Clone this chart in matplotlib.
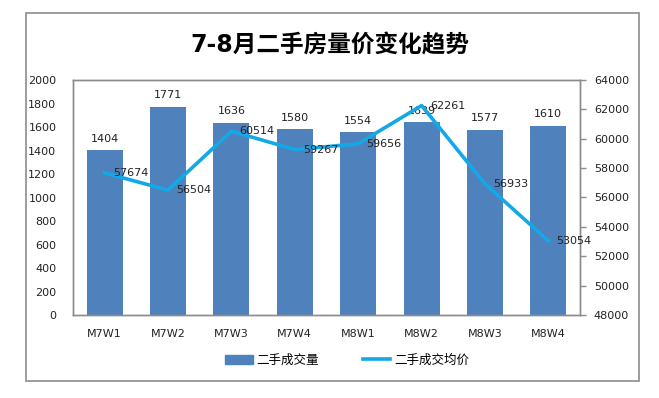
import matplotlib
matplotlib.use("Agg")
import matplotlib.pyplot as plt
from matplotlib.patches import Rectangle
from matplotlib.lines import Line2D
import numpy as np

plt.rcParams['font.family'] = ['DejaVu Sans', 'Noto Sans CJK SC']

weeks = ['M7W1', 'M7W2', 'M7W3', 'M7W4', 'M8W1', 'M8W2', 'M8W3', 'M8W4']
volume = [1404, 1771, 1636, 1580, 1554, 1639, 1577, 1610]
price = [57674, 56504, 60514, 59267, 59656, 62261, 56933, 53054]

bar_color = '#4F81BD'
line_color = '#12A9E6'
frame_color = '#8C8C8C'
txt = '#222222'

fig = plt.figure(figsize=(6.59, 3.98), dpi=100)

# outer chart border
fig.patches.append(Rectangle((26 / 659, 1 - 381 / 398), 613 / 659, 368 / 398,
                             transform=fig.transFigure, fill=False,
                             edgecolor=frame_color, linewidth=1.2))

ax = fig.add_axes([73 / 659, 1 - 315 / 398, 507 / 659, 235 / 398])
x = np.arange(len(weeks))
ax.bar(x, volume, width=0.57, color=bar_color, zorder=2)
ax.set_xlim(-0.5, len(weeks) - 0.5)
ax.set_ylim(0, 2000)
ax.set_yticks(np.arange(0, 2001, 200))
ax.set_xticks(x)
ax.set_xticklabels(weeks)
ax.tick_params(axis='both', length=0, labelsize=8, colors=txt)
ax.tick_params(axis='x', pad=10)
ax.tick_params(axis='y', pad=12)
for s in ax.spines.values():
    s.set_color(frame_color)
    s.set_linewidth(1)

for xi, v in zip(x, volume):
    ax.text(xi, v + 55, str(v), ha='center', va='bottom', fontsize=8, color=txt, zorder=5)

ax2 = ax.twinx()
ax2.plot(x, price, color=line_color, linewidth=2.6, zorder=3)
ax2.set_ylim(48000, 64000)
ax2.set_yticks(np.arange(48000, 64001, 2000))
ax2.tick_params(axis='y', length=4, width=1, labelsize=8, colors=txt, pad=6)
ax2.tick_params(axis='y', color=frame_color)
for s in ax2.spines.values():
    s.set_color(frame_color)
    s.set_linewidth(1)

for xi, p in zip(x, price):
    ax2.text(xi + 0.13, p, str(p), ha='left', va='center', fontsize=8, color=txt, zorder=5)

fig.text(330 / 659, 1 - 45 / 398, '7-8月二手房量价变化趋势', ha='center', va='center',
         fontsize=17, fontweight='bold', color='black')

handles = [Rectangle((0, 0), 1, 1, color=bar_color),
           Line2D([0], [0], color=line_color, linewidth=2.6)]
fig.legend(handles, ['二手成交量', '二手成交均价'], loc='center',
           bbox_to_anchor=(347 / 659, 1 - 360 / 398), ncol=2, frameon=False,
           fontsize=9, handlelength=2.2, handletextpad=0.3, columnspacing=3.5)

fig.savefig('out.png', dpi=100)
